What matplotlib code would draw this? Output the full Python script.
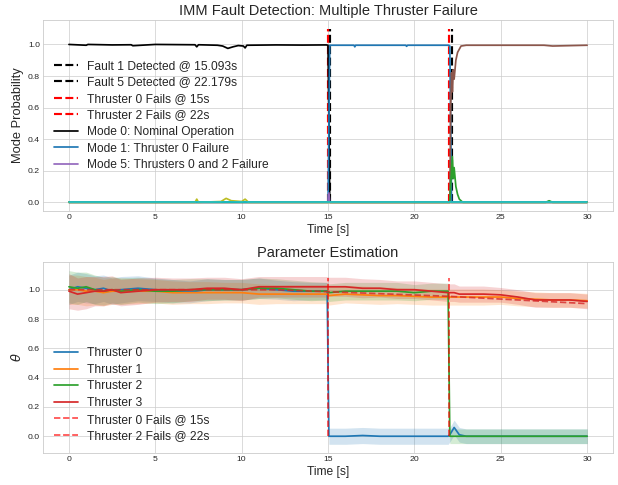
import numpy as np
import matplotlib
matplotlib.use("Agg")
import matplotlib.pyplot as plt

# --- mode probabilities ---
mode0_t = [0, 1.0, 1.1, 2.5, 3.6, 3.7, 5.0, 7.3, 7.4, 7.5, 8.6, 8.9, 9.2, 9.5, 9.8, 10.1, 10.2, 10.3,
           12.0, 13.5, 14.9, 15.0, 15.1, 30]
mode0_p = [1.0, 0.995, 1.0, 0.997, 0.998, 0.992, 1.0, 0.998, 0.985, 0.998, 0.995, 0.99, 0.975, 0.985,
           0.993, 0.99, 0.978, 0.995, 0.997, 0.996, 0.997, 0.995, 0.0, 0.0]

mode1_t = [0, 15.0, 15.1, 16.5, 16.55, 16.6, 19.5, 19.55, 19.6, 22.0, 22.05, 22.15, 30]
mode1_p = [0, 0, 0.995, 0.995, 0.985, 0.995, 0.995, 0.988, 0.995, 0.995, 0.99, 0.0, 0.0]

mode5_t = [0, 22.05, 22.1, 22.15, 22.2, 22.25, 22.3, 22.4, 22.5, 22.7, 23.0, 27.5, 28.0, 30]
mode5_p = [0, 0, 0.6, 0.82, 0.7, 0.84, 0.78, 0.9, 0.95, 0.99, 0.995, 0.995, 0.99, 0.995]

mode2_t = [0, 22.05, 22.12, 22.2, 22.25, 22.3, 22.4, 22.5, 22.6, 22.8, 27.6, 27.8, 28.0, 30]
mode2_p = [0, 0, 0.15, 0.29, 0.15, 0.22, 0.1, 0.05, 0.02, 0.0, 0.0, 0.01, 0.0, 0.0]

mode8_t = [0, 7.3, 7.4, 7.5, 8.8, 9.1, 9.4, 10.0, 10.2, 10.4, 30]
mode8_p = [0, 0, 0.02, 0, 0.005, 0.025, 0.01, 0.005, 0.02, 0, 0]

mode4_t = [0, 15.0, 15.05, 15.1, 30]
mode4_p = [0, 0, 0.06, 0, 0]

mode9_t = [0, 30]
mode9_p = [0, 0]

fault_times = [15.093, 22.179]
fault_labels = ["Fault 1 Detected @ 15.093s", "Fault 5 Detected @ 22.179s"]
fail_times = [15, 22]
fail_labels = ["Thruster 0 Fails @ 15s", "Thruster 2 Fails @ 22s"]

# --- parameter estimates ---
t_est = [0, 0.5, 1, 1.5, 2, 2.5, 3, 4, 5, 6, 7, 8, 9, 10, 11, 12, 13, 14, 14.95, 15.05,
         16, 17, 18, 19, 20, 21, 21.95, 22.05, 22.3, 22.6, 23, 24, 25, 26, 27, 28, 29, 30]
theta0 = [1.0, 1.02, 1.01, 1.0, 1.01, 0.99, 1.0, 1.01, 1.0, 0.99, 0.985, 1.0, 1.0, 1.0, 1.01, 1.0,
          0.99, 0.99, 0.99, 0.0, 0.0, 0.005, 0.0, 0.0, 0.0, 0.0, 0.0, 0.01, 0.06, 0.01, 0.0,
          0, 0, 0, 0, 0, 0, 0]
theta1 = [1.0, 1.0, 0.99, 0.99, 0.98, 0.99, 0.99, 0.99, 0.99, 0.98, 0.98, 0.98, 0.98, 0.98, 0.97,
          0.97, 0.97, 0.97, 0.97, 0.96, 0.97, 0.965, 0.96, 0.96, 0.955, 0.95, 0.95, 0.95, 0.95,
          0.95, 0.95, 0.95, 0.95, 0.94, 0.935, 0.93, 0.93, 0.925]
theta2 = [1.02, 1.01, 1.02, 1.0, 0.99, 1.0, 0.99, 1.0, 0.99, 0.99, 1.0, 1.0, 1.0, 1.0, 1.01, 1.01,
          1.0, 0.99, 0.99, 0.98, 0.99, 0.99, 0.99, 0.99, 0.98, 0.99, 0.99, 0.0, 0.0, 0, 0,
          0, 0, 0, 0, 0, 0, 0]
theta3 = [0.99, 0.97, 0.98, 0.99, 0.99, 1.0, 0.98, 0.99, 1.0, 1.0, 1.0, 1.01, 1.01, 1.0, 1.02, 1.02,
          1.02, 1.02, 1.02, 1.02, 1.02, 1.01, 1.01, 1.0, 1.0, 0.99, 0.98, 0.98, 0.98, 0.97, 0.97,
          0.97, 0.965, 0.95, 0.93, 0.93, 0.93, 0.92]
sig0 = [0.1, 0.1, 0.1, 0.095, 0.09, 0.09, 0.09, 0.085, 0.08, 0.08, 0.075, 0.075, 0.07, 0.07, 0.07,
        0.065, 0.065, 0.06, 0.06, 0.055, 0.055, 0.055, 0.055, 0.055, 0.055, 0.055, 0.055, 0.05,
        0.05, 0.05, 0.05, 0.05, 0.05, 0.05, 0.05, 0.05, 0.05, 0.05]
sig1 = [0.1, 0.1, 0.1, 0.095, 0.09, 0.09, 0.09, 0.085, 0.08, 0.08, 0.075, 0.075, 0.07, 0.07, 0.07,
        0.065, 0.065, 0.065, 0.065, 0.065, 0.06, 0.06, 0.06, 0.055, 0.055, 0.055, 0.055, 0.055,
        0.055, 0.055, 0.055, 0.055, 0.05, 0.05, 0.05, 0.05, 0.05, 0.05]
sig2 = [0.11, 0.11, 0.1, 0.1, 0.095, 0.09, 0.09, 0.085, 0.085, 0.08, 0.075, 0.075, 0.07, 0.07, 0.07,
        0.065, 0.065, 0.065, 0.06, 0.06, 0.06, 0.06, 0.06, 0.06, 0.055, 0.055, 0.055, 0.05,
        0.05, 0.05, 0.05, 0.05, 0.05, 0.05, 0.05, 0.05, 0.05, 0.05]
sig3 = [0.12, 0.11, 0.11, 0.1, 0.1, 0.095, 0.09, 0.09, 0.085, 0.08, 0.08, 0.075, 0.075, 0.075,
        0.07, 0.07, 0.07, 0.07, 0.07, 0.065, 0.065, 0.065, 0.06, 0.06, 0.06, 0.06, 0.06, 0.06,
        0.06, 0.055, 0.055, 0.055, 0.05, 0.05, 0.05, 0.05, 0.05, 0.05]
true3_t = [0, 12, 22, 30]
true3_v = [1.0, 1.0, 0.955, 0.905]

plt.style.use("seaborn-v0_8-whitegrid")
plt.rcParams["font.family"] = ["Liberation Sans", "DejaVu Sans"]

fig, (ax1, ax2) = plt.subplots(2, 1, figsize=(10, 485 / 61.8), dpi=61.8)
fig.subplots_adjust(left=0.0696, right=0.992, top=0.9588, bottom=0.066, hspace=0.267)

# top panel: mode probabilities
for tf, lab in zip(fault_times, fault_labels):
    ax1.plot([tf, tf], [0, 1.1], "k--", lw=2.5, label=lab)
for tf, lab in zip(fail_times, fail_labels):
    ax1.plot([tf, tf], [0, 1.1], "r--", lw=2.5, label=lab)

ax1.plot(mode0_t, mode0_p, color="black", lw=2, label="Mode 0: Nominal Operation")
ax1.plot(mode1_t, mode1_p, color="tab:blue", lw=2, label="Mode 1: Thruster 0 Failure")
ax1.plot(mode4_t, mode4_p, color="tab:purple", lw=2, label="Mode 5: Thrusters 0 and 2 Failure")
ax1.plot(mode5_t, mode5_p, color="tab:brown", lw=2)
ax1.plot(mode2_t, mode2_p, color="tab:green", lw=2)
ax1.plot(mode8_t, mode8_p, color="tab:olive", lw=2)
ax1.plot(mode9_t, mode9_p, color="tab:cyan", lw=2)

ax1.set_title("IMM Fault Detection: Multiple Thruster Failure", fontsize=17)
ax1.set_xlabel("Time [s]", fontsize=14)
ax1.set_ylabel("Mode Probability", fontsize=15)
ax1.legend(loc="center left", fontsize=14, labelspacing=0.38)

# bottom panel: parameter estimates
t = np.array(t_est)
thetas = [theta0, theta1, theta2, theta3]
sigs = [sig0, sig1, sig2, sig3]
colors = ["tab:blue", "tab:orange", "tab:green", "tab:red"]
for i, (th, sg, c) in enumerate(zip(thetas, sigs, colors)):
    th = np.array(th)
    sg = np.array(sg)
    ax2.plot(t, th, color=c, lw=2, label=f"Thruster {i}")
    ax2.fill_between(t, th - sg, th + sg, color=c, alpha=0.2, lw=0)
ax2.plot(true3_t, true3_v, color="tab:red", ls="--", lw=2, alpha=0.8)
for tf, lab in zip(fail_times, fail_labels):
    ax2.plot([tf, tf], [0, 1.08], "r--", lw=2, alpha=0.7, label=lab)

ax2.set_title("Parameter Estimation", fontsize=17)
ax2.set_xlabel("Time [s]", fontsize=14)
ax2.set_ylabel(r"$\theta$", fontsize=15)
ax2.legend(loc="lower left", fontsize=14, labelspacing=0.38)

fig.savefig("out.png", dpi=61.8)
